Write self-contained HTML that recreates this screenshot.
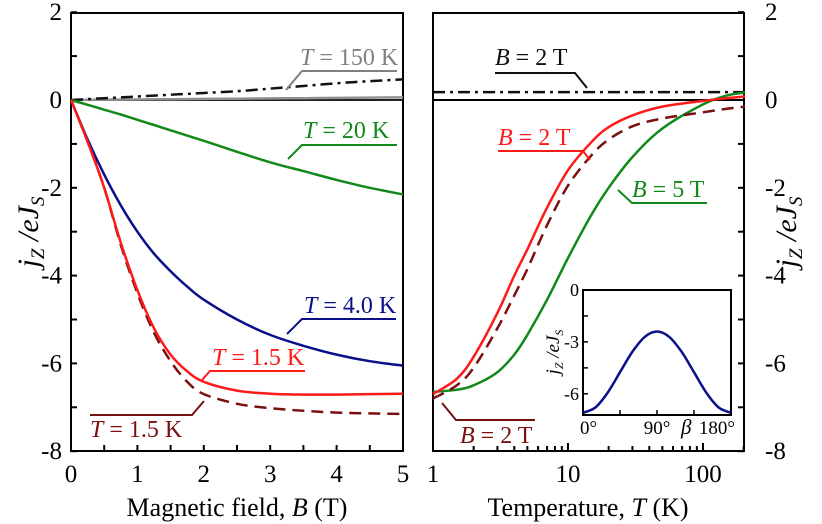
<!DOCTYPE html>
<html><head><meta charset="utf-8"><style>
html,body{margin:0;padding:0;background:#fff}
svg{display:block}
text{font-family:"Liberation Serif","Times New Roman",Times,"DejaVu Serif",serif}
</style></head><body>
<svg id="c" width="822" height="524" viewBox="0 0 822 524" xmlns="http://www.w3.org/2000/svg" font-family="Liberation Serif, Times New Roman, serif">
<g id="g"></g>
</svg>
<script>
// Left panel data (B in T)
const bVals=[0,0.25,0.5,0.75,1,1.25,1.5,1.75,2,2.5,3,3.5,4,4.5,5];
const red15=[0,-0.95,-2.0,-3.25,-4.33,-5.2,-5.8,-6.18,-6.42,-6.62,-6.69,-6.71,-6.71,-6.7,-6.69];
const dred15=[0,-0.95,-2.0,-3.3,-4.4,-5.3,-5.95,-6.42,-6.7,-6.92,-7.02,-7.08,-7.12,-7.14,-7.15];
const blue4=[0,-0.9,-1.7,-2.4,-3.0,-3.5,-3.9,-4.25,-4.55,-5.0,-5.35,-5.6,-5.8,-5.95,-6.05];
const green20=[0,-0.11,-0.22,-0.33,-0.45,-0.57,-0.69,-0.81,-0.93,-1.18,-1.42,-1.62,-1.82,-2.0,-2.15];
const gray150=[0,0.003,0.006,0.009,0.012,0.015,0.018,0.021,0.024,0.03,0.036,0.042,0.048,0.054,0.06];
const dashdotL=[0,0.02,0.04,0.06,0.08,0.1,0.12,0.14,0.16,0.2,0.26,0.32,0.38,0.43,0.47];
// Right panel data (T in K)
const tVals=[1,1.5,2,3,4,5,7,10,15,20,30,50,100,150,205];
const redB2=[-6.7,-6.35,-5.85,-4.85,-4.0,-3.4,-2.45,-1.6,-0.95,-0.62,-0.35,-0.15,-0.02,0.04,0.08];
const dredB2=[-6.8,-6.5,-6.1,-5.2,-4.45,-3.85,-2.85,-1.95,-1.25,-0.9,-0.6,-0.42,-0.28,-0.2,-0.15];
const greenB5=[-6.65,-6.6,-6.5,-6.2,-5.8,-5.35,-4.55,-3.6,-2.6,-2.0,-1.3,-0.65,-0.1,0.1,0.17];
const dashdotR=[0.18,0.18,0.18,0.18,0.18,0.18,0.18,0.18,0.18,0.18,0.18,0.18,0.18,0.18,0.18];
// Inset data
const betaVals=[0,15,30,45,60,75,90,105,120,135,150,165,180];
const insetJ=[-7.1,-6.79,-5.93,-4.75,-3.58,-2.71,-2.4,-2.71,-3.58,-4.75,-5.93,-6.79,-7.1];
const yTicks=[2,0,-2,-4,-6,-8];
const bTicks=[0,1,2,3,4,5];
const tTicks=[1,10,100];
const insetYTicks=[0,-3,-6];
const insetXTicks=["0°","90°","180°"];

const NS="http://www.w3.org/2000/svg";
const G=document.getElementById('g');
function mk(t,a,txt){const e=document.createElementNS(NS,t);for(const k in a)e.setAttribute(k,a[k]);if(txt!==undefined)e.textContent=txt;G.appendChild(e);return e;}
const Y=v=>100-v*43.9;
const XL=b=>71+b*66.4;
const XR=t=>433+135*Math.log10(t);
const XI=b=>583+b*148/180;
const YI=v=>290-v*17.3;
function path(xs,ys,fx,fy){
  const p=xs.map((x,i)=>[fx(x),fy(ys[i])]);
  let d='M'+p[0][0].toFixed(1)+','+p[0][1].toFixed(1);
  for(let i=0;i<p.length-1;i++){
    const p0=p[i-1]||p[i],p1=p[i],p2=p[i+1],p3=p[i+2]||p2;
    const c1x=p1[0]+(p2[0]-p0[0])/6,c1y=p1[1]+(p2[1]-p0[1])/6;
    const c2x=p2[0]-(p3[0]-p1[0])/6,c2y=p2[1]-(p3[1]-p1[1])/6;
    d+='C'+c1x.toFixed(1)+','+c1y.toFixed(1)+' '+c2x.toFixed(1)+','+c2y.toFixed(1)+' '+p2[0].toFixed(1)+','+p2[1].toFixed(1);
  }
  return d;
}

let e;
e=mk('rect',{x:71,y:13,width:332,height:438,fill:'none',stroke:'#000','stroke-width':2});

e=mk('rect',{x:433,y:13,width:311,height:438,fill:'none',stroke:'#000','stroke-width':2});

e=mk('line',{x1:71,x2:403,y1:Y(0),y2:Y(0),stroke:'#222','stroke-width':2});

e=mk('line',{x1:433,x2:744,y1:Y(0),y2:Y(0),stroke:'#000','stroke-width':2});


for(let v=2;v>=-8;v--){e=mk('line',{x1:71,x2:77,y1:Y(v),y2:Y(v),stroke:'#000','stroke-width':2});

e=mk('line',{x1:738,x2:744,y1:Y(v),y2:Y(v),stroke:'#000','stroke-width':2});
}
yTicks.forEach(v=>{e=mk('text',{x:62,y:Y(v)+8,'text-anchor':'end','font-size':25},String(v));

e=mk('text',{x:765,y:Y(v)+8,'text-anchor':'start','font-size':25},String(v));
});
for(let b=0.5;b<5;b+=0.5){e=mk('line',{x1:XL(b),x2:XL(b),y1:451,y2:445,stroke:'#000','stroke-width':2});
}
bTicks.forEach(b=>{e=mk('text',{x:XL(b),y:482,'text-anchor':'middle','font-size':25},String(b));
});
for(let d=1;d<=100;d*=10){for(let m=1;m<10;m++){const t=d*m;if(t>205)break;
e=mk('line',{x1:XR(t),x2:XR(t),y1:451,y2:m==1?443:446,stroke:'#000','stroke-width':2});
}}
tTicks.forEach(t=>{e=mk('text',{x:XR(t),y:482,'text-anchor':'middle','font-size':25},String(t));
});

e=mk('text',{x:237,y:516,'text-anchor':'middle','font-size':26});
e.innerHTML='Magnetic field, <tspan font-style="italic">B</tspan> (T)';

e=mk('text',{x:588,y:516,'text-anchor':'middle','font-size':26});
e.innerHTML='Temperature, <tspan font-style="italic">T</tspan> (K)';

e=mk('text',{transform:'translate(38,232) rotate(-90)','text-anchor':'middle','font-size':30,'font-style':'italic'});
e.innerHTML='j<tspan font-size="19" dy="6">Z</tspan><tspan dy="-6"> /eJ</tspan><tspan font-size="19" dy="6">S</tspan>';

e=mk('text',{transform:'translate(796,232) rotate(-90)','text-anchor':'middle','font-size':30,'font-style':'italic'});
e.innerHTML='j<tspan font-size="19" dy="6">Z</tspan><tspan dy="-6"> /eJ</tspan><tspan font-size="19" dy="6">S</tspan>';


function series(xs,ys,fx,fy,col,dash,name,w){e=mk('path',{d:path(xs,ys,fx,fy),fill:'none',stroke:col,'stroke-width':w||2.5,'stroke-dasharray':dash||'none','stroke-linejoin':'round'});
}
series(bVals,gray150,XL,Y,'#909090','', 'line-t150k');
series(bVals,dashdotL,XL,Y,'#111','12,5,3,5','line-dashdot-left');
series(bVals,green20,XL,Y,'#12891a','','line-t20k');
series(bVals,blue4,XL,Y,'#0a0f8a','','line-t4k');
series(bVals,dred15,XL,Y,'#7a1010','12,7','line-t1p5k-dashed');
series(bVals,red15,XL,Y,'#ff1a1a','','line-t1p5k');
series(tVals,dashdotR,XR,Y,'#111','12,5,3,5','line-dashdot-right');
series(tVals,greenB5,XR,Y,'#12891a','','line-b5t');
series(tVals,dredB2,XR,Y,'#7a1010','12,7','line-b2t-dashed');
series(tVals,redB2,XR,Y,'#ff1a1a','','line-b2t');

function lab(pts,tx,ty,col,txt,name){e=mk('polyline',{points:pts,fill:'none',stroke:col,'stroke-width':2});

e=mk('text',{x:tx,y:ty,fill:col,'font-size':24});
e.innerHTML='<tspan font-style="italic">'+txt[0]+'</tspan>'+txt.slice(1);
}
lab('286,90 302,71 397,71',300,65,'#808080','T = 150 K','label-t150k');
lab('288,159 302,145 397,145',303,138,'#12891a','T = 20 K','label-t20k');
lab('287,334 302,319 396,319',304,313,'#0a0f8a','T = 4.0 K','label-t4k');
lab('202,380 210,371 305,371',212,365,'#ff1a1a','T = 1.5 K','label-t1p5k');
lab('204,401 192,415 90,415',90,437,'#7a1010','T = 1.5 K','label-t1p5k-dashed');
lab('587,88 575,73 495,73',495,65,'#111','B = 2 T','label-b2t-dashdot');
lab('590,160 583,151 498,151',498,145,'#ff1a1a','B = 2 T','label-b2t');
lab('618,190 632,203 707,203',632,197,'#12891a','B = 5 T','label-b5t');
lab('442,403 456,420 535,420',460,443,'#7a1010','B = 2 T','label-b2t-dashed');

e=mk('rect',{x:583,y:290,width:148,height:125,fill:'#fff',stroke:'#000','stroke-width':2});

for(let v=0;v>=-7;v-=1.5){e=mk('line',{x1:583,x2:588,y1:YI(v),y2:YI(v),stroke:'#000','stroke-width':1.5});
}
[45,90,135].forEach(b=>{e=mk('line',{x1:XI(b),x2:XI(b),y1:415,y2:410,stroke:'#000','stroke-width':1.5});
});
insetYTicks.forEach(v=>{e=mk('text',{x:579,y:YI(v)+6,'text-anchor':'end','font-size':18},String(v));
});
[[0,'start',580],[90,'middle',XI(90)],[180,'end',735]].forEach((a,i)=>{e=mk('text',{x:a[2],y:434,'text-anchor':a[1],'font-size':19},insetXTicks[i]);
});
e=mk('text',{x:681,y:434,'font-size':21,'font-style':'italic'},'β');

e=mk('text',{transform:'translate(559,352) rotate(-90)','text-anchor':'middle','font-size':19,'font-style':'italic'});
e.innerHTML='j<tspan font-size="12" dy="4">Z</tspan><tspan dy="-4"> /eJ</tspan><tspan font-size="12" dy="4">S</tspan>';

series(betaVals,insetJ,XI,YI,'#0a0f8a','','inset-curve',2.5);
</script>
</body></html>
